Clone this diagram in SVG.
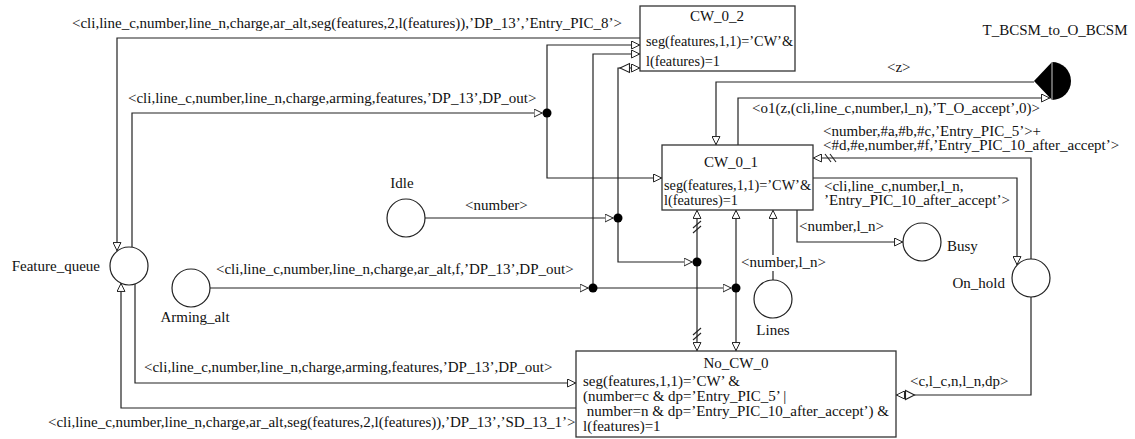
<svg xmlns="http://www.w3.org/2000/svg" width="1135" height="439" viewBox="0 0 1135 439">
<style>
text{font-family:"Liberation Serif","Times New Roman",serif;font-size:15px;fill:#111}
.sm{font-size:14.3px}
.mid{text-anchor:middle}
.end{text-anchor:end}
.box{fill:#fff;stroke:#333;stroke-width:1.3}
.place{fill:#fff;stroke:#222;stroke-width:1.2}
.c{fill:none;stroke:#222;stroke-width:1.2}
.dot{fill:#000}
.tri{fill:#fff;stroke:#222;stroke-width:1.1}
.tick{stroke:#222;stroke-width:1.1}
</style>
<defs>
<marker id="arr" viewBox="0 0 10 10" refX="10" refY="5" markerWidth="9" markerHeight="9" markerUnits="userSpaceOnUse" orient="auto">
<path d="M0.6,0.6 L9.6,5 L0.6,9.4 Z" fill="#fff" stroke="#222" stroke-width="1.1"/>
</marker>
</defs>
<rect width="1135" height="439" fill="#fff"/>

<g id="connectors">
<path class="c" d="M640,38 H117 V251" marker-end="url(#arr)"/>
<path class="c" d="M132,247 V113 H542.5" marker-end="url(#arr)"/>
<path class="c" d="M547,113 V45 H640" marker-end="url(#arr)"/>
<path class="c" d="M547,113 V178 H662" marker-end="url(#arr)"/>
<path class="c" d="M210,288 H588.5" marker-end="url(#arr)"/>
<path class="c" d="M593,288 V54 H640" marker-end="url(#arr)"/>
<path class="c" d="M593,288 H731.5" marker-end="url(#arr)"/>
<path class="c" d="M736,288 V210" marker-end="url(#arr)"/>
<path class="c" d="M736,288 V351" marker-end="url(#arr)"/>
<path class="c" d="M425,218 H613.5" marker-end="url(#arr)"/>
<path class="c" d="M618,218 V68 H640" marker-end="url(#arr)"/>
<polygon class="tri" points="620,68 629.5,63.5 629.5,72.5"/>
<path class="c" d="M618,218 V262 H692.5" marker-end="url(#arr)"/>
<path class="c" d="M697,262 V210" marker-end="url(#arr)"/>
<path class="c" d="M697,262 V351" marker-end="url(#arr)"/>
<line class="tick" x1="693" y1="228" x2="701" y2="221"/>
<line class="tick" x1="693" y1="233" x2="701" y2="226"/>
<line class="tick" x1="693" y1="335" x2="701" y2="328"/>
<line class="tick" x1="693" y1="340" x2="701" y2="333"/>
<path class="c" d="M773,255 V210" marker-end="url(#arr)"/>
<path class="c" d="M773,280 V271"/>
<path class="c" d="M797,210 V242 H903" marker-end="url(#arr)"/>
<path class="c" d="M813,178 H1017 V265" marker-end="url(#arr)"/>
<path class="c" d="M1031,259 V158 H813" marker-end="url(#arr)"/>
<line class="tick" x1="825" y1="154" x2="831" y2="162"/>
<line class="tick" x1="830" y1="154" x2="836" y2="162"/>
<path class="c" d="M1031,297 V395 H896" marker-end="url(#arr)"/>
<polygon class="tri" points="914.5,395 905.5,390.5 905.5,399.5"/>
<path class="c" d="M135,284 V383 H576" marker-end="url(#arr)"/>
<path class="c" d="M576,408 H121 V283" marker-end="url(#arr)"/>
<path class="c" d="M1034,82 H716 V145" marker-end="url(#arr)"/>
<path class="c" d="M738,145 V98 H1050" marker-end="url(#arr)"/>
<circle class="dot" cx="547" cy="113" r="4.5"/>
<circle class="dot" cx="593" cy="288" r="4.5"/>
<circle class="dot" cx="736" cy="288" r="4.5"/>
<circle class="dot" cx="618" cy="218" r="4.5"/>
<circle class="dot" cx="697" cy="262" r="4.5"/>
<text x="72" y="28">&lt;cli,line_c,number,line_n,charge,ar_alt,seg(features,2,l(features)),’DP_13’,’Entry_PIC_8’&gt;</text>
<text x="128" y="103">&lt;cli,line_c,number,line_n,charge,arming,features,’DP_13’,DP_out&gt;</text>
<text x="887" y="72">&lt;z&gt;</text>
<text x="752" y="113">&lt;o1(z,(cli,line_c,number,l_n),’T_O_accept’,0)&gt;</text>
<text x="823" y="136">&lt;number,#a,#b,#c,’Entry_PIC_5’&gt;+</text>
<text x="823" y="150">&lt;#d,#e,number,#f,’Entry_PIC_10_after_accept’&gt;</text>
<text x="824" y="191">&lt;cli,line_c,number,l_n,</text>
<text x="824" y="205">’Entry_PIC_10_after_accept’&gt;</text>
<text x="799" y="231">&lt;number,l_n&gt;</text>
<text x="465" y="210">&lt;number&gt;</text>
<text x="216" y="274">&lt;cli,line_c,number,line_n,charge,ar_alt,f,’DP_13’,DP_out&gt;</text>
<text x="741" y="267">&lt;number,l_n&gt;</text>
<text x="144" y="372">&lt;cli,line_c,number,line_n,charge,arming,features,’DP_13’,DP_out&gt;</text>
<text x="910" y="386">&lt;c,l_c,n,l_n,dp&gt;</text>
<text x="48" y="427">&lt;cli,line_c,number,line_n,charge,ar_alt,seg(features,2,l(features)),’DP_13’,’SD_13_1’&gt;</text>
</g>

<g id="CW_0_2">
<rect class="box" x="640" y="6" width="155" height="65"/>
<text class="mid" x="717" y="21">CW_0_2</text>
<text class="sm" x="646" y="46">seg(features,1,1)=’CW’&amp;</text>
<text class="sm" x="646" y="66">l(features)=1</text>
</g>

<g id="CW_0_1">
<rect class="box" x="662" y="145" width="151" height="65"/>
<text class="mid" x="731" y="167">CW_0_1</text>
<text class="sm" x="664" y="190">seg(features,1,1)=’CW’&amp;</text>
<text class="sm" x="664" y="205">l(features)=1</text>
</g>

<g id="No_CW_0">
<rect class="box" x="576" y="351" width="320" height="86"/>
<text class="mid" x="736" y="368">No_CW_0</text>
<text x="583" y="386">seg(features,1,1)=’CW’ &amp;</text>
<text x="583" y="401">(number=c &amp; dp=’Entry_PIC_5’ |</text>
<text x="583" y="416" xml:space="preserve"> number=n &amp; dp=’Entry_PIC_10_after_accept’) &amp;</text>
<text x="583" y="431">l(features)=1</text>
</g>

<g id="Feature_queue">
<circle class="place" cx="129" cy="266" r="19"/>
<text class="end" x="100" y="271">Feature_queue</text>
</g>

<g id="Arming_alt">
<circle class="place" cx="191" cy="288" r="19"/>
<text class="mid" x="195" y="322">Arming_alt</text>
</g>

<g id="Idle">
<circle class="place" cx="406" cy="218" r="19"/>
<text class="mid" x="402" y="188">Idle</text>
</g>

<g id="Busy">
<circle class="place" cx="922" cy="242" r="19"/>
<text x="947" y="251">Busy</text>
</g>

<g id="On_hold">
<circle class="place" cx="1031" cy="278" r="19"/>
<text class="end" x="1005" y="288">On_hold</text>
</g>

<g id="Lines">
<circle class="place" cx="773" cy="299" r="19"/>
<text class="mid" x="773" y="335">Lines</text>
</g>

<g id="T_BCSM_to_O_BCSM">
<path d="M1052,62 A19,19 0 0 1 1052,100 Z" fill="#000"/>
<path d="M1052,62 L1034,81 L1052,100 Z" fill="#000"/>
<line x1="1052" y1="62" x2="1052" y2="100" stroke="#ccc" stroke-width="1"/>
<text class="mid" x="1055" y="35">T_BCSM_to_O_BCSM</text>
</g>
</svg>
